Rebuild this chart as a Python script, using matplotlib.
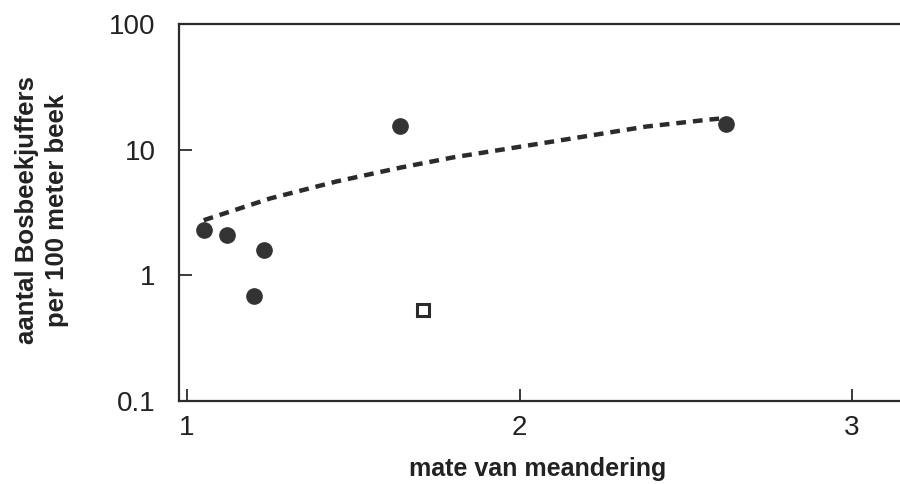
import matplotlib
matplotlib.use("Agg")
import matplotlib.pyplot as plt
from matplotlib.ticker import FixedLocator, NullLocator

# meetpunten (gevulde cirkels)
meander = [1.05, 1.12, 1.23, 1.20, 1.64, 2.62]
aantal = [2.3, 2.1, 1.6, 0.69, 15.5, 16.0]

# afwijkend punt (open vierkant)
meander_open = [1.71]
aantal_open = [0.53]

trend_x = [1.05, 1.25, 1.45, 1.64, 1.80, 2.14, 2.38, 2.57, 2.61]
trend_y = [2.75, 4.1, 5.6, 7.2, 8.7, 12.1, 15.3, 17.4, 17.8]

x_ticks = [1, 2, 3]
y_ticks = [0.1, 1, 10, 100]
y_ticklabels = ["0.1", "1", "10", "100"]

plt.rcParams["font.family"] = ["Liberation Sans", "DejaVu Sans"]
plt.rcParams["lines.scale_dashes"] = False

fig = plt.figure(figsize=(9, 4.84), dpi=100)
ax = fig.add_axes([0.199, 0.1715, 0.8217, 0.7785])

ink = "#2b2b2b"

ax.plot(trend_x, trend_y, color=ink, linewidth=3.2, dashes=(7, 5), solid_capstyle="butt")
ax.plot(meander, aantal, linestyle="none", marker="o", markersize=11,
        color="#333333", markeredgecolor="#333333")
ax.plot(meander_open, aantal_open, linestyle="none", marker="s", markersize=8,
        markerfacecolor="white", markeredgecolor=ink, markeredgewidth=2.2)

ax.set_yscale("log")
ax.set_xlim(0.976, 3.2)
ax.set_ylim(0.1, 100)

ax.xaxis.set_major_locator(FixedLocator(x_ticks))
ax.xaxis.set_minor_locator(NullLocator())
ax.yaxis.set_major_locator(FixedLocator(y_ticks))
ax.yaxis.set_minor_locator(NullLocator())
ax.set_yticklabels(y_ticklabels)
ax.set_xticklabels([str(t) for t in x_ticks])

ax.tick_params(axis="both", direction="in", length=9, width=1.3, color=ink,
               labelsize=20, labelcolor="#222222")
ax.tick_params(axis="y", pad=17)
ax.tick_params(axis="x", pad=10)

for side in ["left", "bottom", "top"]:
    ax.spines[side].set_linewidth(1.6)
    ax.spines[side].set_color(ink)
ax.spines["right"].set_visible(False)

fig.text(0.597, 0.03, "mate van meandering", ha="center", va="center",
         fontsize=18, fontweight="bold", color="#222222")
fig.text(0.047, 0.565, "aantal Bosbeekjuffers\nper 100 meter beek", ha="center",
         va="center", rotation=90, fontsize=18.5, fontweight="bold",
         color="#222222", linespacing=1.3)

fig.savefig("out.png", dpi=100)
